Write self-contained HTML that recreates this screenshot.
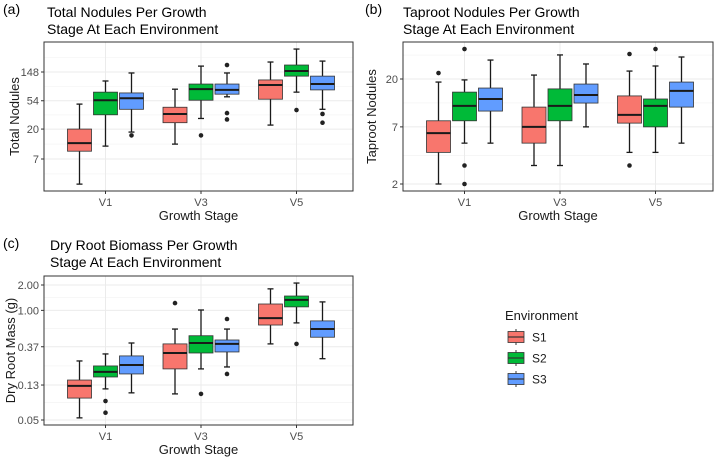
<!DOCTYPE html>
<html><head><meta charset="utf-8"><style>
body{margin:0;background:#fff;}
svg{display:block;font-family:"Liberation Sans",Arial,sans-serif;}
</style></head><body>
<svg id="fig" width="720" height="462" viewBox="0 0 720 462"></svg>
<script>
// shared categories
const stages = ["V1","V3","V5"];
const envs = ["S1","S2","S3"];
const envColors = ["#f8766d","#00ba38","#619cff"];

// panel a: [low, q1, median, q3, high] for each stage × env
const totalStats = [
  [[2.9,9.2,12.2,20,48],[11,33,55,73,108],[18,40,59,71,143]],
  [[11.8,25,34,43,81],[29,55,81,97,182],[62,68,79,97,143]],
  [[23,57,94,112,210],[73,128,153,189,331],[40,79,97,128,217]]
];
const totalOutliers = [[[],[],[16]],[[],[16],[189,35,28]],[[],[39],[34,25]]];
const totalTicks = [7,20,54,148];

// panel b
const taprootStats = [
  [[2.0,4.0,6.1,8.0,18.7],[4.9,8.0,11.1,15.0,19.6],[4.9,9.9,12.9,16.4,30.3]],
  [[3.0,4.9,7.0,10.8,21.8],[3.0,8.0,11.1,16.1,33.9],[7.0,11.8,14.1,17.9,27.8]],
  [[4.0,7.6,9.1,13.8,23.8],[4.0,7.0,11.1,12.9,26.6],[4.9,10.8,15.4,18.7,32.4]]
];
const taprootOutliers = [[[22.8],[38.6,3.0,2.0],[]],[[],[],[]],[[34.6,3.0],[38.6],[]]];
const taprootTicks = [2,7,20];

// panel c
const massStats = [
  [[0.053,0.091,0.127,0.149,0.251],[0.117,0.162,0.186,0.219,0.304],[0.105,0.176,0.225,0.288,0.41]],
  [[0.102,0.202,0.312,0.40,0.60],[0.202,0.312,0.41,0.50,1.01],[0.213,0.321,0.40,0.445,0.60]],
  [[0.40,0.67,0.81,1.19,1.80],[0.71,1.10,1.33,1.48,2.11],[0.267,0.48,0.60,0.75,1.26]]
];
const massOutliers = [[[],[0.084,0.061],[]],[[1.22],[0.102],[0.79,0.176]],[[],[0.40],[]]];
const massTicks = [0.05,0.13,0.37,1.00,2.00];
const massTickLabels = ["0.05","0.13","0.37","1.00","2.00"];

const NS="http://www.w3.org/2000/svg";
const svg=document.getElementById('fig');
function mk(tag,attrs,parent){const e=document.createElementNS(NS,tag);for(const k in attrs)e.setAttribute(k,attrs[k]);(parent||svg).appendChild(e);return e;}
function txt(s,attrs,parent){const e=mk('text',attrs,parent);e.textContent=s;return e;}

function panel(o){
  const g=mk('g',{});
  
  
  const L=Math.log10;
  const y=v=>o.y0+(o.y1-o.y0)*(L(v)-L(o.v0))/(L(o.v1)-L(o.v0));
  const xc=i=>o.x0+95.5*i+61.5;
  mk('rect',{x:o.x0,y:o.top,width:o.x1-o.x0,height:o.bot-o.top,fill:'#fff'},g);
  const lt=o.ticks.map(L);
  const minors=[];
  for(let i=0;i<lt.length-1;i++)minors.push((lt[i]+lt[i+1])/2);
  const step=lt[1]-lt[0];
  minors.push(lt[0]-step/2, lt[lt.length-1]+(lt[lt.length-1]-lt[lt.length-2])/2);
  minors.forEach(m=>{const yy=y(Math.pow(10,m));if(yy>o.top&&yy<o.bot){const l=mk('line',{x1:o.x0,x2:o.x1,y1:yy,y2:yy,stroke:'#f2f2f2','stroke-width':0.6},g);}});
  o.ticks.forEach((t,i)=>{const yy=y(t);
    const l=mk('line',{x1:o.x0,x2:o.x1,y1:yy,y2:yy,stroke:'#ebebeb','stroke-width':1},g);
    
    mk('line',{x1:o.x0-3,x2:o.x0,y1:yy,y2:yy,stroke:'#333','stroke-width':1},g);
    const tl=txt(o.labels?o.labels[i]:String(t),{x:o.x0-5,y:yy+4,'font-size':11,fill:'#4d4d4d','text-anchor':'end'},g);
    
  });
  stages.forEach((s,i)=>{const xx=xc(i);
    const l=mk('line',{x1:xx,x2:xx,y1:o.top,y2:o.bot,stroke:'#ebebeb','stroke-width':1},g);
    
    mk('line',{x1:xx,x2:xx,y1:o.bot,y2:o.bot+3,stroke:'#333'},g);
    const tl=txt(s,{x:xx,y:o.bot+15,'font-size':11,fill:'#4d4d4d','text-anchor':'middle'},g);
    
  });
  o.stats.forEach((grp,i)=>grp.forEach((st,j)=>{
    const cx=xc(i)+(j-1)*26,w=24;
    const b=mk('g',{},g);
    
    
    mk('line',{x1:cx,x2:cx,y1:y(st[4]),y2:y(st[0]),stroke:'#1a1a1a','stroke-width':1.3},b);
    mk('line',{x1:cx-3,x2:cx+3,y1:y(st[4]),y2:y(st[4]),stroke:'#1a1a1a','stroke-width':1.3},b);
    mk('line',{x1:cx-3,x2:cx+3,y1:y(st[0]),y2:y(st[0]),stroke:'#1a1a1a','stroke-width':1.3},b);
    mk('rect',{x:cx-w/2,y:y(st[3]),width:w,height:y(st[1])-y(st[3]),fill:envColors[j],stroke:'#333','stroke-width':0.8},b);
    mk('line',{x1:cx-w/2,x2:cx+w/2,y1:y(st[2]),y2:y(st[2]),stroke:'#1a1a1a','stroke-width':2},b);
    o.out[i][j].forEach(v=>{const c=mk('circle',{cx:cx,cy:y(v),r:2.3,fill:'#222'},b);});
  }));
  mk('rect',{x:o.x0,y:o.top,width:o.x1-o.x0,height:o.bot-o.top,fill:'none',stroke:'#333','stroke-width':1},g);
  const xt=txt('Growth Stage',{x:(o.x0+o.x1)/2,y:o.bot+29,'font-size':13,fill:'#1a1a1a','text-anchor':'middle'},g);
  
  const ym=(o.top+o.bot)/2;
  const yt=txt(o.ylab,{x:o.ylx,y:ym,'font-size':13,fill:'#1a1a1a','text-anchor':'middle',transform:`rotate(-90 ${o.ylx} ${ym})`},g);
  
  const pl=txt(o.tag,{x:o.tagx,y:o.tagy,'font-size':14,fill:'#000'},g);
  
  o.title.forEach((t,k)=>{const tt=txt(t,{x:o.tx,y:o.ty+k*17,'font-size':14,fill:'#000'},g);});
}

panel({name:'panel-a-total-nodules',x0:44,x1:353,top:42,bot:191,v0:7,y0:159,v1:148,y1:72,ticks:totalTicks,stats:totalStats,out:totalOutliers,
  ylab:'Total Nodules',ylx:19,tag:'(a)',tagx:3,tagy:14,title:['Total Nodules Per Growth','Stage At Each Environment'],tx:47,ty:17});
panel({name:'panel-b-taproot-nodules',x0:403,x1:713,top:42,bot:191,v0:2,y0:184,v1:20,y1:79,ticks:taprootTicks,stats:taprootStats,out:taprootOutliers,
  ylab:'Taproot Nodules',ylx:376,tag:'(b)',tagx:365,tagy:14,title:['Taproot Nodules Per Growth','Stage At Each Environment'],tx:403,ty:17});
panel({name:'panel-c-dry-root-mass',x0:44,x1:353,top:276,bot:425,v0:0.05,y0:420,v1:2,y1:285,ticks:massTicks,labels:massTickLabels,stats:massStats,out:massOutliers,
  ylab:'Dry Root Mass (g)',ylx:15,tag:'(c)',tagx:3,tagy:248,title:['Dry Root Biomass Per Growth','Stage At Each Environment'],tx:50,ty:250});

const lg=mk('g',{});


const lt=txt('Environment',{x:505,y:320,'font-size':13,fill:'#1a1a1a'},lg);

envs.forEach((e,j)=>{const cy=337+j*21;
  const en=mk('g',{},lg);
  
  
  mk('line',{x1:516,x2:516,y1:cy-8,y2:cy+8,stroke:'#333'},en);
  mk('rect',{x:508,y:cy-5.5,width:16,height:11,fill:envColors[j],stroke:'#333','stroke-width':0.8},en);
  mk('line',{x1:508,x2:524,y1:cy,y2:cy,stroke:'#333','stroke-width':1.2},en);
  txt(e,{x:532,y:cy+4.5,'font-size':12,fill:'#1a1a1a'},en);
});
</script>
</body></html>
